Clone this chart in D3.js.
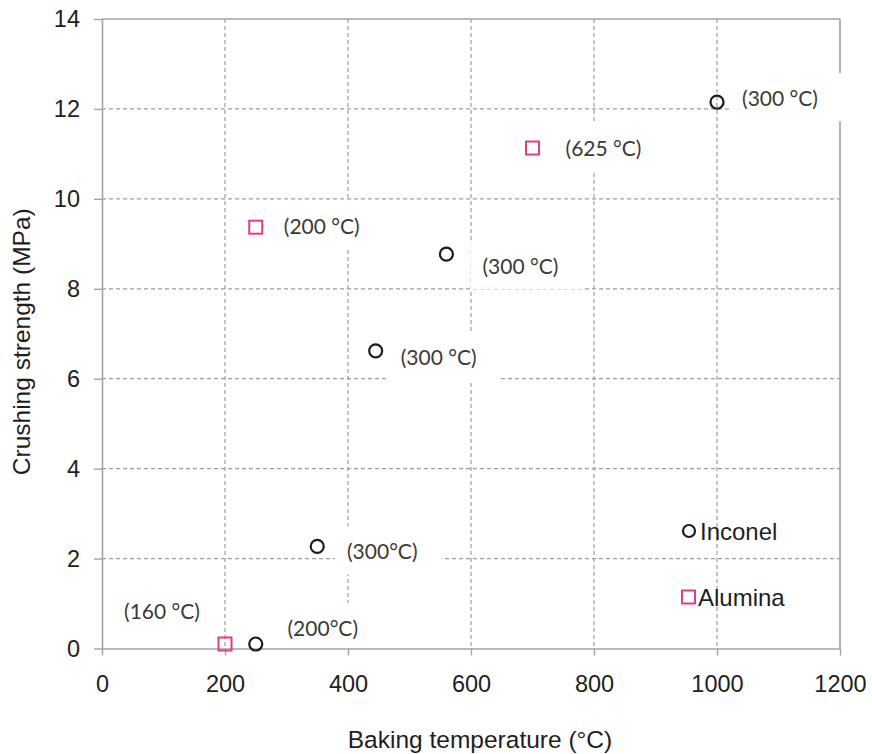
<!DOCTYPE html>
<html>
<head>
<meta charset="utf-8">
<script src="https://cdn.jsdelivr.net/npm/d3@7/dist/d3.min.js"></script>
<style>
  html, body { margin: 0; padding: 0; background: #fff; }
  svg { display: block; }
</style>
</head>
<body>
<svg id="chart" width="872" height="754"></svg>
<script>
// Crushing strength of coated samples versus baking temperature
const inconelTemp = [250, 350, 445, 560, 1000];
const inconelStrength = [0.1, 2.27, 6.62, 8.77, 12.15];
const inconelLabels = ["(200°C)", "(300°C)", "(300 °C)", "(300 °C)", "(300 °C)"];

const aluminaTemp = [200, 250, 700];
const aluminaStrength = [0.1, 9.37, 11.13];
const aluminaLabels = ["(160 °C)", "(200 °C)", "(625 °C)"];

const xTicks = [0, 200, 400, 600, 800, 1000, 1200];
const yTicks = [0, 2, 4, 6, 8, 10, 12, 14];
const seriesNames = ["Inconel", "Alumina"];

// Label placement (pixel offsets of each label centre from its marker)
const inconelLabelOffsets = [[67, -17], [65, 4], [63, 6], [74, 11], [63, -5]];
const aluminaLabelOffsets = [[-63, -34], [66, -2], [71, -1]];

const W = 872, H = 754;
const margin = { left: 102, top: 19, right: 32, bottom: 105.5 };
const pink = "#e23d8b";
const ink = "#1c1c1c";
const gridColor = "#9d9d9d";

const svg = d3.select("#chart");
const x = d3.scaleLinear().domain([0, 1200]).range([margin.left, W - margin.right]);
const y = d3.scaleLinear().domain([0, 14]).range([H - margin.bottom, margin.top]);

const [x0, x1] = x.range();
const [y0, y1] = y.range();

// Dashed gridlines
svg.append("g")
  .selectAll("line")
  .data(yTicks.filter(v => v > 0 && v < 14))
  .join("line")
  .attr("x1", x0).attr("x2", x1)
  .attr("y1", d => y(d)).attr("y2", d => y(d))
  .attr("stroke", gridColor).attr("stroke-width", 1.2)
  .attr("stroke-dasharray", "4,3");

svg.append("g")
  .selectAll("line")
  .data(xTicks.filter(v => v > 0 && v < 1200))
  .join("line")
  .attr("x1", d => x(d)).attr("x2", d => x(d))
  .attr("y1", y1).attr("y2", y0)
  .attr("stroke", gridColor).attr("stroke-width", 1.2)
  .attr("stroke-dasharray", "4,3");

// Top and right frame lines
const frame = svg.append("g").attr("stroke", "#a3a3a3").attr("stroke-width", 1.6);
frame.append("line").attr("x1", x0).attr("x2", x1).attr("y1", y1).attr("y2", y1);
frame.append("line").attr("x1", x1).attr("x2", x1).attr("y1", y1).attr("y2", y0);

// Data labels with white backing boxes
const labelFont = "Lato, 'Open Sans', sans-serif";
const labelLayer = svg.append("g");
function addLabels(tv, sv, labels, offsets) {
  labels.forEach((txt, i) => {
    const cx = x(tv[i]) + offsets[i][0];
    const cy = y(sv[i]) + offsets[i][1];
    const g = labelLayer.append("g");
    const rect = g.append("rect").attr("fill", "#fff");
    const t = g.append("text")
      .attr("x", cx).attr("y", cy)
      .attr("text-anchor", "middle")
      .attr("dominant-baseline", "central")
      .attr("font-family", labelFont)
      .attr("font-size", 21)
      .attr("fill", "#3a3a3a")
      .text(txt);
    const bb = t.node().getBBox();
    rect.attr("x", bb.x - 12).attr("y", cy - 24)
      .attr("width", bb.width + 36).attr("height", 48);
  });
}
addLabels(inconelTemp, inconelStrength, inconelLabels, inconelLabelOffsets);
addLabels(aluminaTemp, aluminaStrength, aluminaLabels, aluminaLabelOffsets);
// Bring the label texts above all boxes
labelLayer.selectAll("text").raise();

// Axes
const axisFont = "'Liberation Sans', Arial, sans-serif";
const xAxis = svg.append("g")
  .attr("transform", `translate(0,${y0})`)
  .call(d3.axisBottom(x).tickValues(xTicks).tickFormat(d3.format("d"))
    .tickSize(7).tickSizeOuter(0).tickPadding(20));
const yAxis = svg.append("g")
  .attr("transform", `translate(${x0},0)`)
  .call(d3.axisLeft(y).tickValues(yTicks).tickFormat(d3.format("d"))
    .tickSize(8).tickSizeOuter(0).tickPadding(14));

[xAxis, yAxis].forEach(a => {
  a.select(".domain").attr("stroke", "#a3a3a3").attr("stroke-width", 1.6);
  a.selectAll(".tick line").attr("stroke", "#a3a3a3").attr("stroke-width", 1.4);
  a.selectAll(".tick text")
    .attr("font-family", axisFont)
    .attr("font-size", 23.5)
    .attr("fill", "#1e1e1e");
});

// Axis titles
svg.append("text")
  .attr("x", 480).attr("y", 748)
  .attr("text-anchor", "middle")
  .attr("font-family", axisFont).attr("font-size", 24.5)
  .attr("fill", "#1e1e1e")
  .text("Baking temperature (°C)");

svg.append("text")
  .attr("transform", `translate(30,${(y0 + y1) / 2 + 8}) rotate(-90)`)
  .attr("text-anchor", "middle")
  .attr("font-family", axisFont).attr("font-size", 24.5)
  .attr("fill", "#1e1e1e")
  .text("Crushing strength (MPa)");

// Markers
svg.append("g")
  .selectAll("circle")
  .data(inconelTemp.map((t, i) => [t, inconelStrength[i]]))
  .join("circle")
  .attr("cx", d => x(d[0])).attr("cy", d => y(d[1]))
  .attr("r", 6.5)
  .attr("fill", "none").attr("stroke", ink).attr("stroke-width", 2.2);

const sq = 13;
svg.append("g")
  .selectAll("rect")
  .data(aluminaTemp.map((t, i) => [t, aluminaStrength[i]]))
  .join("rect")
  .attr("x", d => x(d[0]) - sq / 2).attr("y", d => y(d[1]) - sq / 2)
  .attr("width", sq).attr("height", sq)
  .attr("fill", "none").attr("stroke", pink).attr("stroke-width", 2);

// Legend
const legend = svg.append("g").attr("transform", "translate(689,531)");
legend.append("circle").attr("cx", 0).attr("cy", 0).attr("r", 6)
  .attr("fill", "none").attr("stroke", ink).attr("stroke-width", 2.2);
legend.append("text").attr("x", 11).attr("y", 0)
  .attr("dominant-baseline", "central")
  .attr("font-family", axisFont).attr("font-size", 24).attr("fill", "#1e1e1e")
  .text(seriesNames[0]);
legend.append("rect").attr("x", -7).attr("y", 66 - 6.5)
  .attr("width", 13).attr("height", 13)
  .attr("fill", "none").attr("stroke", pink).attr("stroke-width", 2);
legend.append("text").attr("x", 9).attr("y", 66)
  .attr("dominant-baseline", "central")
  .attr("font-family", axisFont).attr("font-size", 24).attr("fill", "#1e1e1e")
  .text(seriesNames[1]);
</script>
</body>
</html>
